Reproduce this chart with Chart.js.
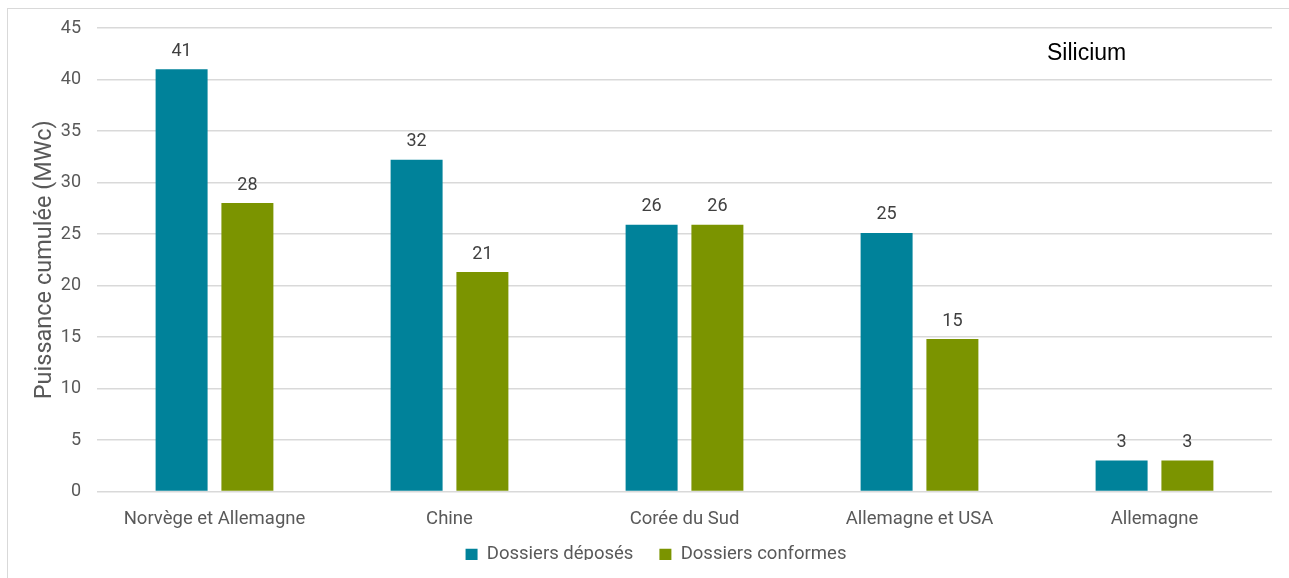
<!DOCTYPE html>
<html>
<head>
<meta charset="utf-8">
<script src="https://cdn.jsdelivr.net/npm/chart.js@4.4.1/dist/chart.umd.min.js"></script>
<style>
  html, body { margin: 0; padding: 0; background: #ffffff; }
  #frame { position: absolute; left: 7px; top: 8px; width: 1300px; height: 600px; border: 1px solid #d9d9d9; box-sizing: border-box; }
  #wrap { position: absolute; left: 0; top: 0; width: 1289px; height: 578px; }
</style>
</head>
<body>
<div id="frame"></div>
<div id="wrap"><canvas id="c" width="1289" height="578"></canvas></div>
<script>
const categories = ["Norvège et Allemagne", "Chine", "Corée du Sud", "Allemagne et USA", "Allemagne"];
const dossiersDeposes = [41, 32.2, 25.9, 25.1, 3];
const dossiersConformes = [28, 21.3, 25.9, 14.8, 3];
const seriesNames = ["Dossiers déposés", "Dossiers conformes"];
const yTicks = [0, 5, 10, 15, 20, 25, 30, 35, 40, 45];
const yTitle = "Puissance cumulée (MWc)";
const panelLabel = "Silicium";

const FONT = "Roboto, 'Liberation Sans', sans-serif";

const valueLabels = {
  id: 'valueLabels',
  afterDatasetsDraw(chart) {
    const ctx = chart.ctx;
    ctx.save();
    ctx.font = "18px " + FONT;
    ctx.fillStyle = "#404040";
    ctx.textAlign = "center";
    ctx.textBaseline = "bottom";
    chart.data.datasets.forEach((ds, i) => {
      const meta = chart.getDatasetMeta(i);
      meta.data.forEach((bar, j) => {
        ctx.fillText(Math.round(ds.data[j]).toString(), bar.x, bar.y - 9);
      });
    });
    ctx.restore();
  }
};

const panelText = {
  id: 'panelText',
  afterDraw(chart) {
    const ctx = chart.ctx;
    const a = chart.chartArea;
    ctx.save();
    ctx.font = "23px 'Liberation Sans', Arial, sans-serif";
    ctx.fillStyle = "#000000";
    ctx.textAlign = "left";
    ctx.textBaseline = "middle";
    ctx.fillText(panelLabel, a.right - 225, a.top + 26);
    ctx.restore();
  }
};

// widen the spacing between legend items without changing the legend's vertical layout
const legendTweak = {
  id: 'legendTweak',
  afterLayout(chart) {
    const l = chart.legend;
    if (!l) return;
    const base = l.options.labels.padding;
    const wide = 26;
    l.options.labels.padding = wide;
    l.top -= (wide - base);
    l.bottom -= (wide - base);
    l.left += 6;
    l.right += 6;
  }
};

new Chart(document.getElementById('c'), {
  type: 'bar',
  data: {
    labels: categories,
    datasets: [
      { label: seriesNames[0], data: dossiersDeposes, backgroundColor: "#00829A" },
      { label: seriesNames[1], data: dossiersConformes, backgroundColor: "#7B9400" }
    ]
  },
  options: {
    responsive: false,
    animation: false,
    devicePixelRatio: 1,
    layout: { padding: { left: 0, right: 17, top: 28, bottom: 4 } },
    datasets: { bar: { categoryPercentage: 0.56, barPercentage: 0.79 } },
    scales: {
      x: {
        grid: { display: false },
        border: { display: false },
        ticks: { color: "#595959", font: { family: FONT, size: 18.5 }, padding: 9, maxRotation: 0 },
        afterFit(s) { s.height = 42; }
      },
      y: {
        min: 0, max: 45,
        afterBuildTicks(s) { s.ticks = yTicks.map(v => ({ value: v })); },
        grid: { color: "#d9d9d9", lineWidth: 1.5, drawTicks: false },
        border: { display: false },
        ticks: { color: "#595959", font: { family: FONT, size: 18 }, padding: 16 },
        title: { display: true, text: yTitle, color: "#595959", font: { family: FONT, size: 23.5 }, padding: { top: 31, bottom: 0 } },
        afterFit(s) { s.width = 97; }
      }
    },
    plugins: {
      legend: {
        position: 'bottom',
        labels: { color: "#595959", font: { family: FONT, size: 18.5 }, boxWidth: 12, boxHeight: 12, padding: 12 }
      },
      tooltip: { enabled: false }
    }
  },
  plugins: [valueLabels, panelText, legendTweak]
});
</script>
</body>
</html>
